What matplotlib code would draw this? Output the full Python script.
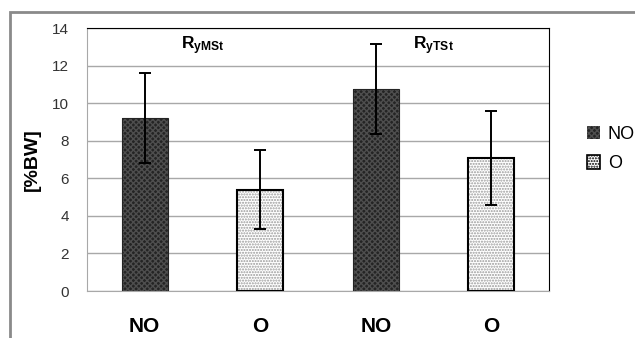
import matplotlib
matplotlib.use('Agg')
import matplotlib.pyplot as plt
import matplotlib.patches as mpatches

plt.rcParams['font.family'] = ['Liberation Sans', 'DejaVu Sans']
plt.rcParams['mathtext.fontset'] = 'custom'
plt.rcParams['mathtext.bf'] = 'Liberation Sans:bold'
plt.rcParams['mathtext.rm'] = 'Liberation Sans'
plt.rcParams['hatch.linewidth'] = 1.0

# data
categories = ['NO', 'O', 'NO', 'O']
means = [9.2, 5.4, 10.75, 7.1]
errors = [2.4, 2.1, 2.4, 2.5]
groups = [r'$\mathbf{R_{yMSt}}$', r'$\mathbf{R_{yTSt}}$']
legend_labels = ['NO', 'O']

fig = plt.figure(figsize=(6.35, 3.38), dpi=100)
ax = fig.add_axes([0.137, 0.139, 0.7276, 0.778])

# outer frame of the chart area
fig.patches.append(mpatches.Rectangle((10 / 635, -0.1), 1.2, 1 - 12 / 338 + 0.1,
                                      transform=fig.transFigure, fill=False,
                                      edgecolor='#8a8a8a', lw=2, zorder=0))

x = list(range(len(categories)))
dark = dict(facecolor='#242424', edgecolor='#4e4e4e', hatch='xxxxxx', lw=0)
light = dict(facecolor='white', edgecolor='#9a9a9a', hatch='......', lw=0)
styles = [dark, light, dark, light]

for i in x:
    ax.bar(x[i], means[i], width=0.4, zorder=2, **styles[i])
    if styles[i] is light:
        ax.bar(x[i], means[i], width=0.4, fill=False, edgecolor='black', lw=1.5, zorder=3)
    else:
        ax.bar(x[i], means[i], width=0.4, fill=False, edgecolor='#242424', lw=0.8, zorder=3)

ax.errorbar(x, means, yerr=errors, fmt='none', ecolor='black', elinewidth=1.4,
            capsize=4.5, capthick=1.4, zorder=4)

for j, g in enumerate(groups):
    ax.text(2 * j + 0.5, 13.05, g, ha='center', va='center', fontsize=12.5)

ax.set_xlim(-0.5, 3.5)
ax.set_ylim(0, 14)
ax.set_yticks(range(0, 15, 2))
ax.set_xticks(x)
ax.set_xticklabels(categories, fontsize=15, fontweight='bold')
ax.tick_params(axis='x', length=0, pad=19)
ax.tick_params(axis='y', length=0, pad=13, labelsize=11, labelcolor='#333333')
ax.yaxis.grid(True, color='#a8a8a8', lw=1)
ax.set_axisbelow(True)
ax.set_ylabel('[%BW]', fontsize=14, fontweight='bold', labelpad=8)

ax.spines['left'].set_color('#a8a8a8')
ax.spines['bottom'].set_color('#a8a8a8')
ax.spines['top'].set_color('black')
ax.spines['right'].set_color('black')
ax.spines['top'].set_linewidth(0.8)
ax.spines['right'].set_linewidth(0.8)

handles = [mpatches.Patch(**dark), mpatches.Patch(facecolor='white', edgecolor='black', hatch='......', lw=1.2)]
fig.legend(handles, legend_labels, loc='upper left', bbox_to_anchor=(0.91, 0.655),
           frameon=False, fontsize=13, handlelength=0.75, handleheight=0.75,
           handletextpad=0.4, labelspacing=0.7, borderpad=0)

fig.savefig('out.png', dpi=100)
